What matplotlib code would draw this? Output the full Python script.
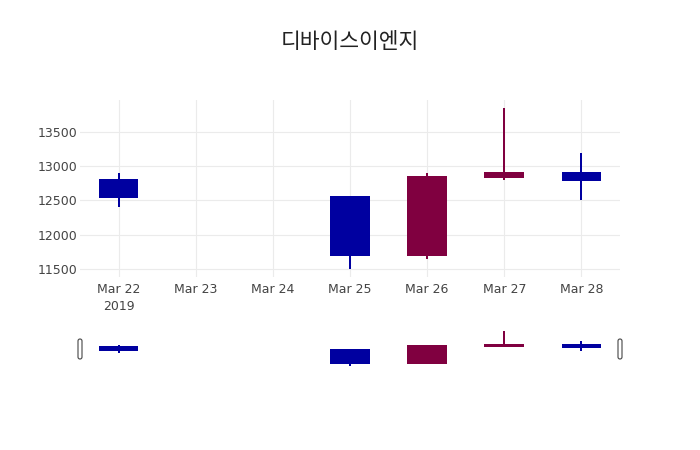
import numpy as np
import matplotlib.pyplot as plt
import matplotlib.dates as mdates
from matplotlib.patches import Rectangle, FancyBboxPatch
from matplotlib.transforms import IdentityTransform
import datetime as dt

title = '디바이스이엔지'
dates = ['2019-03-22', '2019-03-25', '2019-03-26', '2019-03-27', '2019-03-28']
opens = [12800, 12550, 11700, 12850, 12900]
highs = [12900, 12550, 12900, 13850, 13200]
lows = [12400, 11500, 11650, 12800, 12500]
closes = [12550, 11700, 12850, 12900, 12800]
tick_days = ['2019-03-22', '2019-03-23', '2019-03-24', '2019-03-25',
             '2019-03-26', '2019-03-27', '2019-03-28']
tick_labels = ['Mar 22\n2019', 'Mar 23', 'Mar 24', 'Mar 25', 'Mar 26', 'Mar 27', 'Mar 28']
yticks = [11500, 12000, 12500, 13000, 13500]

up_col = '#800040'
down_col = '#0000A0'
txt_col = '#444444'
grid_col = '#EBEBEB'

plt.rcParams['font.family'] = ['DejaVu Sans', 'Noto Sans CJK KR']

x = mdates.date2num([dt.datetime.strptime(d, '%Y-%m-%d') for d in dates])
xt = mdates.date2num([dt.datetime.strptime(d, '%Y-%m-%d') for d in tick_days])
xlim = (xt[0] - 0.5, xt[-1] + 0.5)
ylim = (11383, 13967)

fig = plt.figure(figsize=(7, 4.5), dpi=100)
W, H = 700, 450
ax = fig.add_axes([80 / W, 1 - 277 / H, 540 / W, 177 / H])
sl = fig.add_axes([80 / W, 1 - 368 / H, 540 / W, 39 / H])


def candles(a):
    for xi, o, h, l, c in zip(x, opens, highs, lows, closes):
        col = up_col if c >= o else down_col
        a.plot([xi, xi], [l, h], color=col, lw=1.44, solid_capstyle='butt', zorder=3)
        a.add_patch(Rectangle((xi - 0.245, min(o, c)), 0.49, abs(c - o),
                              facecolor=col, edgecolor=col, lw=1.44, zorder=4))


candles(ax)
ax.set_xlim(xlim)
ax.set_ylim(ylim)
ax.set_xticks(xt)
ax.set_xticklabels(tick_labels, fontsize=9, color=txt_col, linespacing=1.4)
ax.set_yticks(yticks)
ax.set_yticklabels([str(v) for v in yticks], fontsize=9, color=txt_col)
ax.tick_params(axis='x', length=0, pad=4)
ax.tick_params(axis='y', length=0, pad=2)
ax.grid(True, color=grid_col, lw=0.8)
ax.set_axisbelow(True)
for s in ax.spines.values():
    s.set_visible(False)

candles(sl)
sl.set_xlim(xlim)
sl.set_ylim(ylim)
sl.set_xticks([])
sl.set_yticks([])
for s in sl.spines.values():
    s.set_visible(False)

# range slider grabbers
for px in (80, 620):
    fig.add_artist(FancyBboxPatch((px - 2, 450 - 359), 4, 20,
                                  boxstyle='round,pad=0,rounding_size=2',
                                  transform=IdentityTransform(),
                                  facecolor='white', edgecolor='#444444', lw=0.8))

fig.text(0.5, 1 - 42 / H, title, ha='center', va='center', fontsize=15.5,
         color='#222222', family='Noto Sans CJK KR')

fig.savefig('out.png', dpi=100)
